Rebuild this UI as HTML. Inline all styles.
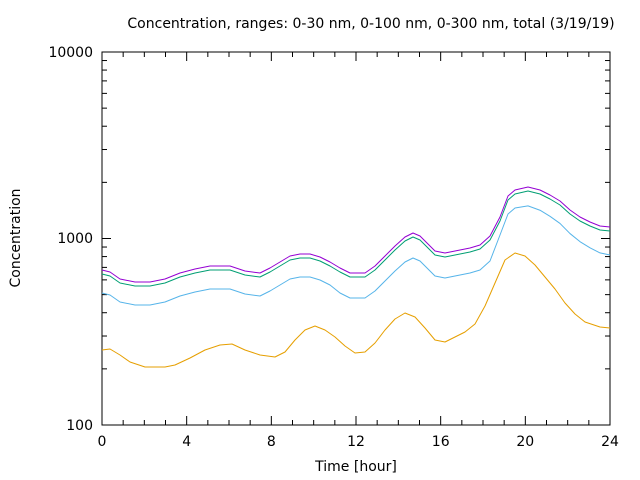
<!DOCTYPE html>
<html><head><meta charset="utf-8"><style>body{margin:0;background:#fff}svg{display:block}text{font-family:"DejaVu Sans","Liberation Sans",sans-serif;font-size:14px;fill:#000}</style></head>
<body>
<svg id="s" width="640" height="480" viewBox="0 0 640 480" xmlns="http://www.w3.org/2000/svg">
<text x="371" y="28" text-anchor="middle" font-size="13.4">Concentration, ranges: 0-30 nm, 0-100 nm, 0-300 nm, total (3/19/19)</text>
<text x="93" y="57" text-anchor="end">10000</text>
<text x="93" y="243" text-anchor="end">1000</text>
<text x="93" y="430" text-anchor="end">100</text>
<text x="102" y="446" text-anchor="middle">0</text>
<text x="186.7" y="446" text-anchor="middle">4</text>
<text x="271.3" y="446" text-anchor="middle">8</text>
<text x="356" y="446" text-anchor="middle">12</text>
<text x="440.7" y="446" text-anchor="middle">16</text>
<text x="525.3" y="446" text-anchor="middle">20</text>
<text x="610" y="446" text-anchor="middle">24</text>
<text x="356" y="471" text-anchor="middle">Time [hour]</text>
<text transform="translate(20,238) rotate(-90)" text-anchor="middle">Concentration</text>
<g id="ax" stroke="#000" stroke-width="1" fill="none"></g>
<g id="ln" fill="none" stroke-width="1"></g>
</svg>
<script>
var ax=document.getElementById('ax'),ln=document.getElementById('ln'),ns='http://www.w3.org/2000/svg';
function L(x1,y1,x2,y2){var l=document.createElementNS(ns,'line');l.setAttribute('x1',x1);l.setAttribute('y1',y1);l.setAttribute('x2',x2);l.setAttribute('y2',y2);ax.appendChild(l);}
var X0=102,X1=610,Y0=425,Y1=52;
var r=document.createElementNS(ns,'rect');r.setAttribute('x',X0);r.setAttribute('y',Y1);r.setAttribute('width',X1-X0);r.setAttribute('height',Y0-Y1);ax.appendChild(r);
for(var h=0;h<=24;h++){var x=X0+h*(X1-X0)/24,t=h%4==0?9:5;L(x,Y0,x,Y0-t);L(x,Y1,x,Y1+t);}
for(var d=0;d<2;d++)for(var k=1;k<=10;k++){var y=Y0-(d+Math.log10(k))*(Y0-Y1)/2,t=(k==1||k==10)?9:5;L(X0,y,X0+t,y);L(X1,y,X1-t,y);}
var pur=[[102,270],[110,272],[120,279],[135,282],[150,282],[165,279],[180,273],[195,269],[210,266],[230,266],[245,271],[260,273],[270,268],[280,262],[290,256],[300,254],[310,254],[320,257],[330,262],[340,268],[350,273],[365,273],[375,266],[385,256],[395,246],[405,237],[413,233],[420,236],[428,244],[435,251],[445,253],[455,251],[470,248],[480,245],[490,236],[500,217],[508,196],[515,190],[528,187],[540,190],[550,195],[560,201],[570,210],[580,217],[590,222],[600,226],[610,227]];
var ora=[[102,350],[110,349],[120,355],[130,362],[145,367],[165,367],[175,365],[190,358],[205,350],[220,345],[232,344],[245,350],[260,355],[275,357],[285,352],[295,340],[305,330],[315,326],[325,330],[335,337],[345,346],[355,353],[365,352],[375,343],[385,330],[395,319],[405,313],[415,317],[425,328],[435,340],[445,342],[455,337],[465,332],[475,324],[485,306],[495,283],[505,260],[515,253],[525,256],[535,265],[545,277],[555,289],[565,303],[575,314],[585,322],[600,327],[610,328]];
function P(pts,c,f){var p=document.createElementNS(ns,'polyline');p.setAttribute('points',pts.map(function(q){return q[0]+','+(q[1]+f(q[0]))}).join(' '));p.setAttribute('stroke',c);p.setAttribute('stroke-linejoin','round');ln.appendChild(p);}
P(ora,'#e69f00',function(){return 0});
P(pur,'#56b4e9',function(x){return x<500?23+(x>330?2:0):18+(x-520)/90*10*(x>520?1:0)});
P(pur,'#009e73',function(x){return 4});
P(pur,'#9400d3',function(){return 0});
</script>
</body></html>
